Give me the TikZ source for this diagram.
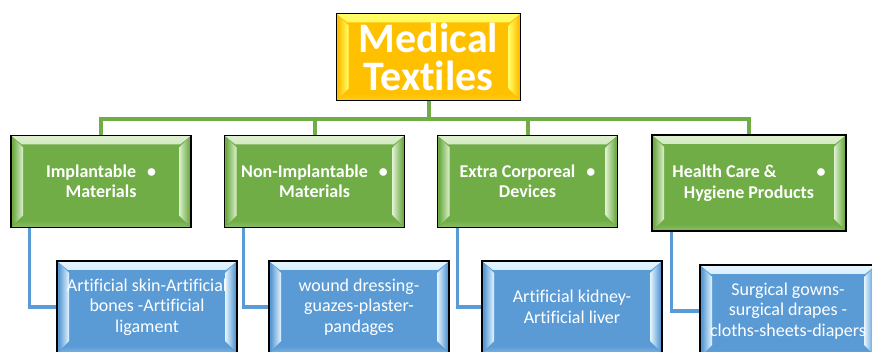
\documentclass[tikz,border=0pt]{standalone}
\usepackage{fontspec}
\setmainfont[Ligatures={NoCommon}]{Carlito}
\usetikzlibrary{calc}

\definecolor{gold}{HTML}{FFC000}
\definecolor{goldlight}{HTML}{FFFF66}
\definecolor{leaf}{HTML}{70AD47}
\definecolor{leaflight}{HTML}{DDF0CF}
\definecolor{sky}{HTML}{5B9BD5}
\definecolor{skylight}{HTML}{E6F6FF}

% Bevel highlights painted inside a box: light top strip, light side bars
\newcommand\bevelfx[2]{%
  \shade[top color=#2, bottom color=#1]
    let \p1=(path picture bounding box.north west),
        \p2=(path picture bounding box.south east) in
    (\x1,\y1) -- (\x2,\y1) -- (\x2-11pt,\y1-9pt) -- (\x1+11pt,\y1-9pt) -- cycle;
  \shade[top color=#1, bottom color=#1!75!#2]
    let \p1=(path picture bounding box.north west),
        \p2=(path picture bounding box.south east) in
    (\x1,\y2) -- (\x2,\y2) -- (\x2-11pt,\y2+7pt) -- (\x1+11pt,\y2+7pt) -- cycle;
  \shade[left color=#1, right color=#2]
    let \p1=(path picture bounding box.north west),
        \p2=(path picture bounding box.south east) in
    (\x1+2pt,\y1-2pt) -- (\x1+12pt,\y1-12pt) -- (\x1+12pt,\y2+12pt) -- (\x1+2pt,\y2+2pt) -- cycle;
  \shade[left color=#2, right color=#1]
    let \p1=(path picture bounding box.north west),
        \p2=(path picture bounding box.south east) in
    (\x2-2pt,\y1-2pt) -- (\x2-12pt,\y1-12pt) -- (\x2-12pt,\y2+12pt) -- (\x2-2pt,\y2+2pt) -- cycle;
}

\tikzset{
  bevelbox/.style 2 args={draw=black, line width=1.5pt, fill=#1,
    path picture={\bevelfx{#1}{#2}}, inner sep=0pt, align=center,
    text=white},
  titlebox/.style={bevelbox={gold}{goldlight}, minimum width=184pt,
    minimum height=87pt, font=\fontsize{42}{38}\selectfont\bfseries},
  groupbox/.style={bevelbox={leaf}{leaflight}, minimum width=180pt,
    minimum height=92pt, font=\fontsize{18}{20.5}\selectfont\bfseries},
  itembox/.style={bevelbox={sky}{skylight}, minimum width=180pt,
    minimum height=92pt, font=\fontsize{18}{20.5}\selectfont},
  greenline/.style={draw=leaf, line width=4pt},
  blueline/.style={draw=sky, line width=3.5pt},
}

\begin{document}
\begin{tikzpicture}[x=1pt, y=-1pt]
  \useasboundingbox[fill=white] (0,0) rectangle (872,352);

  % tree connectors
  \coordinate (bus) at (428.5,119);
  \coordinate (g1a) at (101,135);
  \coordinate (g2a) at (314.5,135);
  \coordinate (g3a) at (527.5,135);
  \coordinate (g4a) at (749,135);
  \draw[greenline] (428.5,101) -- (bus);
  \draw[greenline] (bus) -| (g1a);
  \draw[greenline] (bus) -| (g4a);
  \draw[greenline] (g2a |- bus) -- (g2a);
  \draw[greenline] (g3a |- bus) -- (g3a);

  % root
  \node[titlebox] (top) at (428.5,57) {Medical\\Textiles};

  % categories
  \node[groupbox] (g1) at (101,181.5) {Implantable\hspace{11pt}•\\Materials};
  \node[groupbox] (g2) at (314.5,181.5) {Non-Implantable\hspace{11pt}•\\Materials};
  \node[groupbox] (g3) at (527.5,181.5) {Extra Corporeal\hspace{11pt}•\\Devices};
  \node[groupbox, minimum width=194pt, minimum height=96pt] (g4) at (749,183)
    {Health Care \&\hspace{40pt}•\\Hygiene Products};

  % examples
  \node[itembox] (b1) at (147,307) {Artificial skin-Artificial\\bones -Artificial\\ligament};
  \node[itembox] (b2) at (359,307) {wound dressing-\\guazes-plaster-\\pandages};
  \node[itembox] (b3) at (572,307) {Artificial kidney-\\Artificial liver};
  \node[itembox, minimum width=176pt] (b4) at (788,311)
    {Surgical gowns-\\surgical drapes -\\cloths-sheets-diapers};

  % links from categories to examples
  \draw[blueline] ($(g1.south west)+(19,0)$) |- (b1.west);
  \draw[blueline] ($(g2.south west)+(19.5,0)$) |- (b2.west);
  \draw[blueline] ($(g3.south west)+(20.5,0)$) |- (b3.west);
  \draw[blueline] ($(g4.south west)+(20,0)$) |- (b4.west);
\end{tikzpicture}
\end{document}
